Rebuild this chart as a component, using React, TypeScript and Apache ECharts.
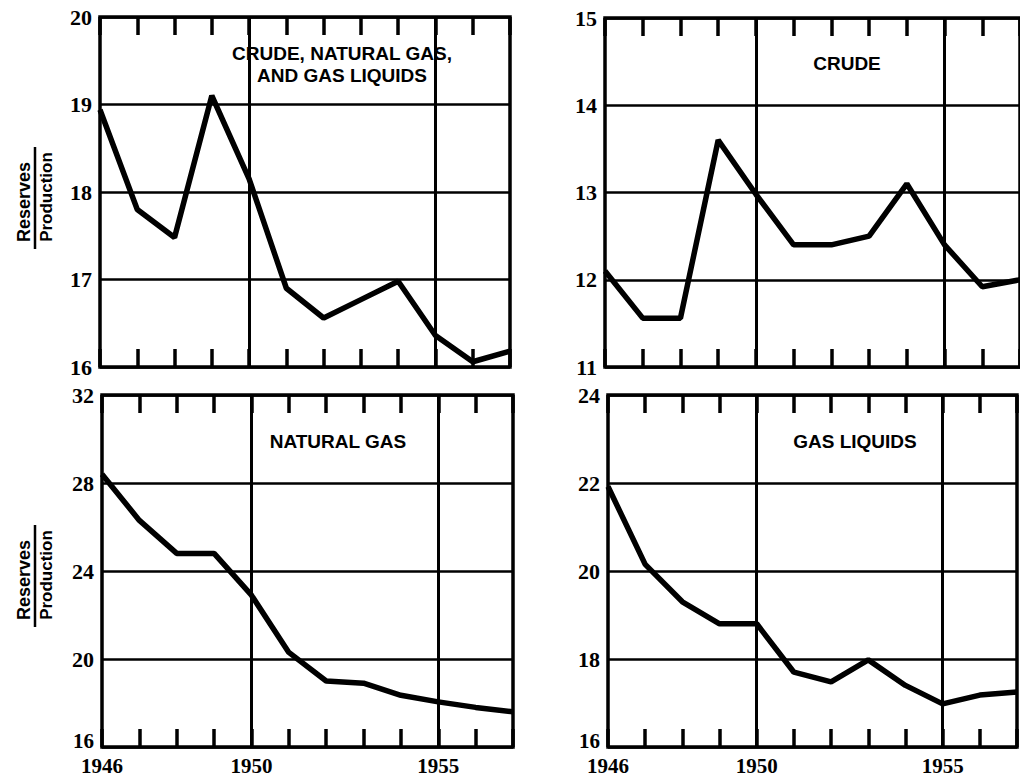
import React, { useEffect, useRef } from "react";
import * as echarts from "echarts";

const years = [1946, 1947, 1948, 1949, 1950, 1951, 1952, 1953, 1954, 1955, 1956, 1957];
const totalRatio = [18.94, 17.8, 17.48, 19.1, 18.15, 16.9, 16.56, 16.77, 16.98, 16.36, 16.06, 16.18];
const crudeRatio = [12.1, 11.56, 11.56, 13.6, 12.98, 12.4, 12.4, 12.5, 13.1, 12.4, 11.92, 12.0];
const naturalGasRatio = [28.4, 26.3, 24.8, 24.8, 22.9, 20.3, 19.0, 18.9, 18.35, 18.05, 17.8, 17.6];
const gasLiquidsRatio = [21.92, 20.15, 19.3, 18.8, 18.8, 17.7, 17.48, 17.98, 17.4, 16.98, 17.18, 17.25];

const panelTitles = [
  ["CRUDE, NATURAL GAS,", "AND GAS LIQUIDS"],
  ["CRUDE"],
  ["NATURAL GAS"],
  ["GAS LIQUIDS"],
];
const xTickLabels = [1946, 1950, 1955];
const xGridYears = [1950, 1955];
const yRanges = [
  { min: 16, max: 20, interval: 1 },
  { min: 11, max: 15, interval: 1 },
  { min: 16, max: 32, interval: 4 },
  { min: 16, max: 24, interval: 2 },
];
const yTitleTop = "Reserves";
const yTitleBottom = "Production";

const seriesData = [totalRatio, crudeRatio, naturalGasRatio, gasLiquidsRatio];

const serifFont = '"Liberation Serif", "DejaVu Serif", serif';
const sansFont = '"Liberation Sans", Arial, sans-serif';

export default function App() {
  const ref = useRef<HTMLDivElement>(null);

  useEffect(() => {
    if (!ref.current) return;
    const chart = echarts.init(ref.current, undefined, { renderer: "svg" });

    const grids = [
      { left: 100, top: 17, width: 410, height: 350 },
      { left: 605, top: 18, width: 420, height: 349 },
      { left: 102, top: 395, width: 411, height: 353 },
      { left: 608, top: 395, width: 420, height: 352 },
    ].map((g) => ({
      ...g,
      show: true,
      borderColor: "#000",
      borderWidth: 3.5,
      backgroundColor: "transparent",
      containLabel: false,
    }));

    const xAxes: any[] = [];
    for (let i = 0; i < 4; i++) {
      const bottomLabels = i >= 2;
      for (const pos of ["bottom", "top"]) {
        xAxes.push({
          type: "value",
          gridIndex: i,
          position: pos,
          min: 1946,
          max: 1957,
          interval: 1,
          axisLine: { show: false },
          splitLine: { show: false },
          axisTick: {
            show: true,
            inside: true,
            length: 18,
            lineStyle: { color: "#000", width: 3.5 },
          },
          axisLabel: {
            show: pos === "bottom" && bottomLabels,
            margin: 8,
            color: "#000",
            fontFamily: serifFont,
            fontWeight: "bold",
            fontSize: 21,
            showMinLabel: true,
            showMaxLabel: true,
            formatter: (v: number) => (xTickLabels.includes(v) ? String(v) : ""),
          },
        });
      }
    }

    const yAxes = yRanges.map((r, i) => {
      const shiftMin = i >= 2;
      return {
        type: "value",
        gridIndex: i,
        min: r.min,
        max: r.max,
        interval: r.interval,
        axisLine: { show: false },
        axisTick: { show: false },
        splitLine: { show: true, lineStyle: { color: "#000", width: 2.5 } },
        axisLabel: {
          color: "#000",
          fontFamily: serifFont,
          fontWeight: "bold",
          fontSize: 22,
          margin: 8,
          showMinLabel: true,
          showMaxLabel: true,
          verticalAlign: "middle",
          formatter: (v: number) =>
            shiftMin && v === r.min ? `{lo|${v}}` : String(v),
          rich: {
            lo: {
              color: "#000",
              fontFamily: serifFont,
              fontWeight: "bold",
              fontSize: 21,
              padding: [0, 0, 12, 0],
            },
          },
        },
      };
    });

    const series = seriesData.map((d, i) => ({
      type: "line",
      xAxisIndex: i * 2,
      yAxisIndex: i,
      data: years.map((y, k) => [y, d[k]]),
      symbol: "none",
      lineStyle: { color: "#000", width: 5.5 },
      z: 5,
      markLine: {
        silent: true,
        symbol: ["none", "none"],
        label: { show: false },
        lineStyle: { color: "#000", width: 3, type: "solid" },
        data: xGridYears.map((y) => ({ xAxis: y })),
        z: 3,
      },
    }));

    const titlePos = [
      { x: 342, y: 53 },
      { x: 847, y: 63 },
      { x: 338, y: 441 },
      { x: 855, y: 441 },
    ];
    const graphics: any[] = [];
    panelTitles.forEach((lines, i) => {
      lines.forEach((t, j) => {
        graphics.push({
          type: "text",
          x: titlePos[i].x,
          y: titlePos[i].y + j * 22,
          z: 10,
          style: {
            text: t,
            fill: "#000",
            font: `bold 19px ${sansFont}`,
            textAlign: "center",
            textVerticalAlign: "middle",
          },
        });
      });
    });

    const yTitleCenters = [197, 575];
    yTitleCenters.forEach((cy) => {
      graphics.push({
        type: "text",
        x: 24,
        y: cy + 5,
        rotation: Math.PI / 2,
        style: {
          text: yTitleTop,
          fill: "#000",
          font: `bold 18px ${sansFont}`,
          textAlign: "center",
          textVerticalAlign: "middle",
        },
      });
      graphics.push({
        type: "line",
        shape: { x1: 35, y1: cy - 50, x2: 35, y2: cy + 52 },
        style: { stroke: "#000", lineWidth: 2.5 },
      });
      graphics.push({
        type: "text",
        x: 46,
        y: cy,
        rotation: Math.PI / 2,
        style: {
          text: yTitleBottom,
          fill: "#000",
          font: `bold 17px ${sansFont}`,
          textAlign: "center",
          textVerticalAlign: "middle",
        },
      });
    });

    chart.setOption({
      animation: false,
      backgroundColor: "#fff",
      grid: grids,
      xAxis: xAxes,
      yAxis: yAxes,
      series,
      graphic: graphics,
    });

    return () => chart.dispose();
  }, []);

  return (
    <div
      ref={ref}
      style={{ position: "fixed", left: 0, top: 0, width: 1020, height: 776 }}
    />
  );
}
